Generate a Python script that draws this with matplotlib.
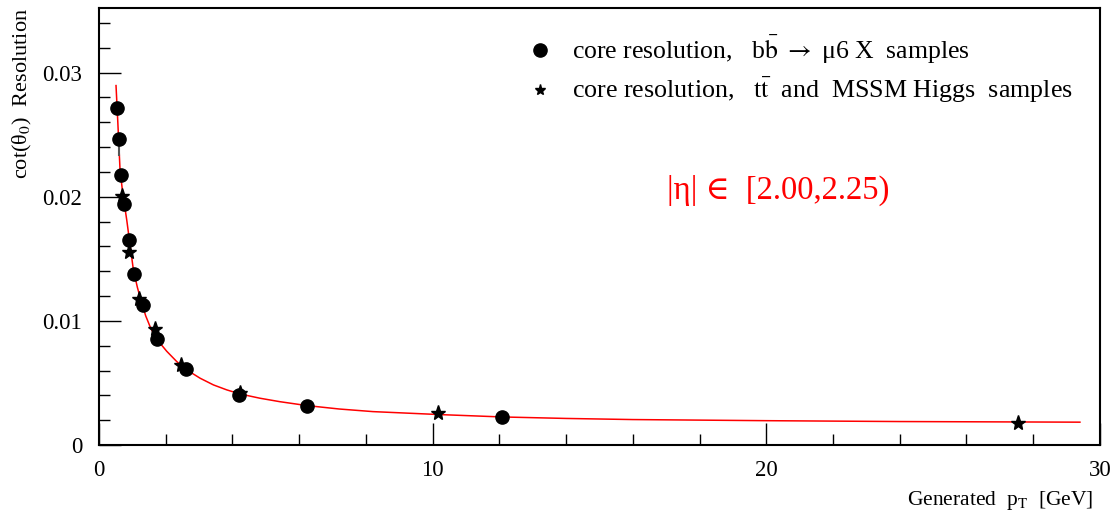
import matplotlib
matplotlib.use("Agg")
import matplotlib.pyplot as plt
from matplotlib.ticker import MultipleLocator, FuncFormatter

plt.rcParams['font.family'] = ['Liberation Serif', 'DejaVu Serif', 'DejaVu Sans']
plt.rcParams['mathtext.fontset'] = 'stix'

# core resolution, bb -> mu6 X samples (circles)
bb_pt = [0.53, 0.59, 0.66, 0.75, 0.89, 1.04, 1.31, 1.74, 2.61, 4.20, 6.23, 12.08]
bb_res = [0.02715, 0.02465, 0.02172, 0.01944, 0.01653, 0.01379, 0.01127, 0.00857,
          0.00610, 0.00403, 0.00315, 0.00226]
bb_err_lo = [0, 0.0014, 0, 0, 0, 0, 0, 0, 0, 0, 0, 0]

# core resolution, tt and MSSM Higgs samples (stars)
tt_pt = [0.70, 0.91, 1.20, 1.69, 2.45, 4.23, 10.17, 27.54]
tt_res = [0.02003, 0.01551, 0.01175, 0.00933, 0.00645, 0.00417, 0.00256, 0.00177]

# fitted curve
fit_pt = [0.51, 0.56, 0.63, 0.71, 0.83, 1.03, 1.15, 1.28, 1.40, 1.53, 1.68, 1.83,
          2.03, 2.33, 2.63, 3.03, 3.43, 3.83, 4.23, 4.82, 5.42, 6.22, 7.2, 8.21,
          10.22, 12.08, 14.0, 16.0, 20.0, 24.0, 29.4]
fit_res = [0.02895, 0.02621, 0.02218, 0.02030, 0.01815, 0.01411, 0.01270, 0.01143,
           0.01040, 0.00954, 0.00875, 0.00820, 0.00755, 0.00672, 0.00605, 0.00538,
           0.00484, 0.00444, 0.00411, 0.00377, 0.00349, 0.00318, 0.00290, 0.00269,
           0.00245, 0.00226, 0.00214, 0.00205, 0.00196, 0.00189, 0.00184]

fig = plt.figure(figsize=(11.2, 5.15), dpi=100)
ax = fig.add_axes([0.0884, 0.1359, 0.8937, 0.8486])

ax.plot(fit_pt, fit_res, color='red', lw=1.1, zorder=2)
ax.errorbar(bb_pt, bb_res, yerr=[bb_err_lo, [0] * len(bb_pt)], fmt='none',
            ecolor='#555555', elinewidth=1.5, zorder=3)
ax.plot(bb_pt, bb_res, 'o', color='black', ms=9.5, zorder=4)
ax.plot(tt_pt, tt_res, '*', color='black', ms=11, zorder=5)

ax.set_xlim(0, 30)
ax.set_ylim(0, 0.0352)

ax.xaxis.set_major_locator(MultipleLocator(10))
ax.xaxis.set_minor_locator(MultipleLocator(2))
ax.yaxis.set_major_locator(MultipleLocator(0.01))
ax.yaxis.set_minor_locator(MultipleLocator(0.002))
ax.yaxis.set_major_formatter(FuncFormatter(lambda v, p: '0' if abs(v) < 1e-9 else '%.2f' % v))
ax.tick_params(which='both', direction='in', top=False, right=False,
               labelsize=16.5, width=1.0, color='black')
ax.tick_params(which='major', length=16)
ax.tick_params(which='minor', length=8)
ax.tick_params(axis='y', pad=12)
ax.tick_params(axis='x', pad=11)
for s in ax.spines.values():
    s.set_linewidth(1.5)

# legend drawn by hand, ROOT style
ax.plot([0.4406], [0.904], 'o', color='black', ms=9.5, transform=ax.transAxes, clip_on=False)
ax.plot([0.4406], [0.812], '*', color='black', ms=8, transform=ax.transAxes, clip_on=False)
ax.text(0.4725, 0.904, r'core resolution,   b$\bar{\mathrm{b}}$ $\rightarrow$ μ6 X  samples',
        transform=ax.transAxes, fontsize=18.5, va='center', ha='left')
ax.text(0.4725, 0.812, r'core resolution,   t$\bar{\mathrm{t}}$  and  MSSM Higgs  samples',
        transform=ax.transAxes, fontsize=18.7, va='center', ha='left')

ax.text(0.5674, 0.5835, '|η| ∈  [2.00,2.25)', color='red', fontsize=23.5,
        transform=ax.transAxes, va='center', ha='left')

fig.text(22 / 1120, 1 - 8 / 515, r'cot(θ${}_0$)  Resolution', rotation=90,
         fontsize=16, ha='center', va='top')
fig.text(1093 / 1120, 1 - 500 / 515, r'Generated  p${}_\mathrm{T}$  [GeV]',
         fontsize=15.5, ha='right', va='center')

fig.savefig('out.png', dpi=100)
